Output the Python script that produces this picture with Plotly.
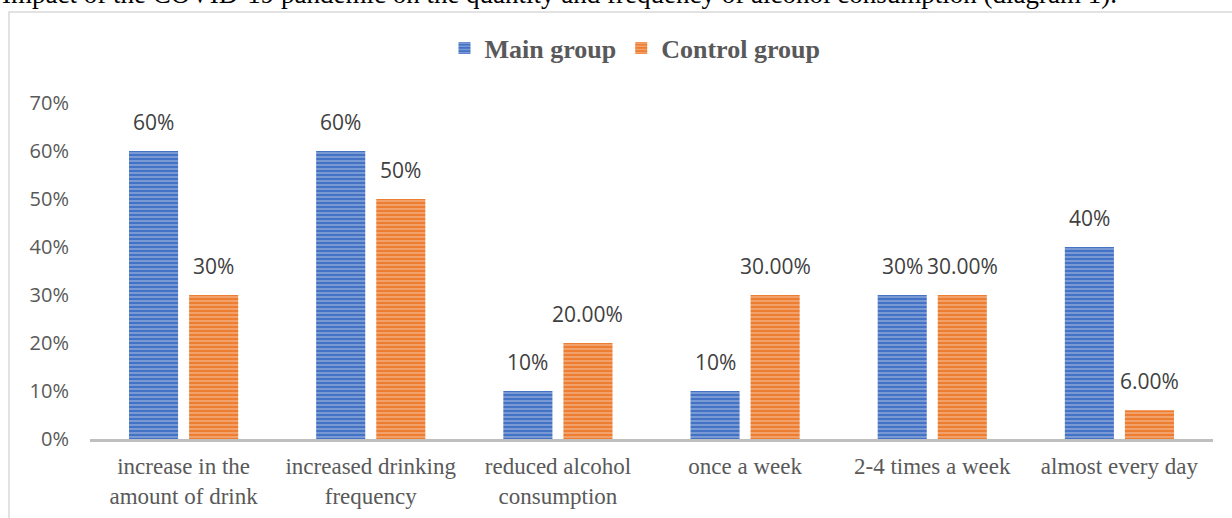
import plotly.graph_objects as go

categories = ["increase in the<br>amount of drink", "increased drinking<br>frequency",
              "reduced alcohol<br>consumption", "once a week", "2-4 times a week", "almost every day"]
main_values = [0.60, 0.60, 0.10, 0.10, 0.30, 0.40]
control_values = [0.30, 0.50, 0.20, 0.30, 0.30, 0.06]
main_labels = ["60%", "60%", "10%", "10%", "30%", "40%"]
control_labels = ["30%", "50%", "20.00%", "30.00%", "30.00%", "6.00%"]
y_ticks = [0, 0.1, 0.2, 0.3, 0.4, 0.5, 0.6, 0.7]

W, H = 1232, 518
L, R, T, B = 90, 19, 103, 79
pw, ph = W - L - R, H - T - B

def px_x(p):
    return (p - L) / pw

def px_y(p):
    return (H - B - p) / ph

fig = go.Figure()
fig.add_trace(go.Bar(
    x=categories, y=main_values, name="Main group",
    marker=dict(color="#4472C4", line=dict(width=0),
                pattern=dict(shape="-", fgcolor="rgba(255,255,255,0.7)", size=4, solidity=0.4,
                             fillmode="overlay")),
))
fig.add_trace(go.Bar(
    x=categories, y=control_values, name="Control group",
    marker=dict(color="#ED7D31", line=dict(width=0),
                pattern=dict(shape="-", fgcolor="rgba(255,255,255,0.7)", size=4, solidity=0.4,
                             fillmode="overlay")),
))

for cat, v, lab in zip(categories, main_values, main_labels):
    fig.add_annotation(x=cat, y=v, text=lab, showarrow=False, xshift=-30, yshift=13,
                       yanchor="bottom", font=dict(family="Open Sans", size=21, color="#404040"))
for cat, v, lab in zip(categories, control_values, control_labels):
    fig.add_annotation(x=cat, y=v, text=lab, showarrow=False, xshift=30, yshift=13,
                       yanchor="bottom", font=dict(family="Open Sans", size=21, color="#404040"))

fig.add_annotation(xref="paper", yref="paper", x=px_x(0), y=px_y(11), xanchor="left", yanchor="bottom",
                   text="Impact of the COVID-19 pandemic on the quantity and frequency of alcohol consumption (diagram 1).",
                   showarrow=False, font=dict(family="Liberation Serif", size=27, color="#000000"))

fig.add_shape(type="rect", xref="paper", yref="paper", x0=px_x(9), x1=px_x(1240), y0=px_y(12), y1=px_y(530),
              line=dict(color="#D9D9D9", width=1.5), fillcolor="rgba(0,0,0,0)", layer="below")

fig.update_layout(
    width=W, height=H,
    margin=dict(l=L, r=R, t=T, b=B, autoexpand=False),
    paper_bgcolor="white", plot_bgcolor="white",
    barmode="group", bargap=0.358, bargroupgap=0.183,
    legend=dict(orientation="h", x=px_x(635), xanchor="center", y=px_y(48), yanchor="middle",
                font=dict(family="Liberation Serif", size=26, color="#595959", weight="bold"),
                itemwidth=30, traceorder="normal"),
    showlegend=True,
)
fig.update_xaxes(showline=True, linecolor="#BFBFBF", linewidth=3, showgrid=False, zeroline=False,
                 ticks="", ticklabelstandoff=4, automargin=False,
                 tickfont=dict(family="Liberation Serif", size=23, color="#595959"))
fig.update_yaxes(range=[0, 0.7], tickvals=y_ticks, tickformat=".0%", showgrid=False, zeroline=False,
                 showline=False, ticks="", ticklabelstandoff=20, automargin=False,
                 tickfont=dict(family="Open Sans", size=20, color="#595959"))

fig.write_html("out.html")
